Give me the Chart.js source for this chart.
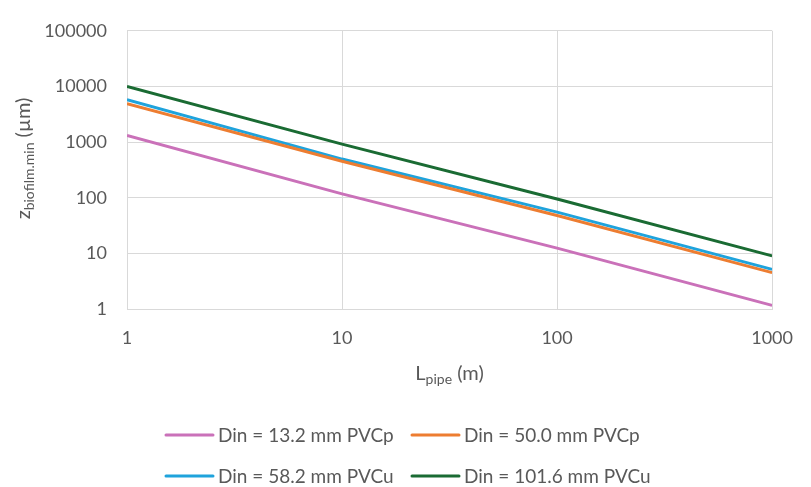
<!DOCTYPE html>
<html>
<head>
<meta charset="utf-8">
<script src="https://cdn.jsdelivr.net/npm/chart.js@4"></script>
<style>
  html, body { margin: 0; padding: 0; background: #fff; }
  #wrap { width: 811px; height: 487px; }
</style>
</head>
<body>
<div id="wrap"><canvas id="chart" width="811" height="487"></canvas></div>
<script>
// pipe length (m)
const lengths = [1, 10, 100, 1000];
// minimum biofilm thickness (µm) for each pipe
const din132 = [1310, 117, 12.4, 1.16];
const din500 = [4900, 452, 48, 4.5];
const din582 = [5800, 495, 55, 5.15];
const din1016 = [10000, 920, 95, 9.0];

const seriesNames = ['Din = 13.2 mm PVCp', 'Din = 50.0 mm PVCp', 'Din = 58.2 mm PVCu', 'Din = 101.6 mm PVCu'];
const seriesColors = ['#CA71B9', '#ED7D31', '#1FA3DC', '#1A6B33'];
const xTicks = [1, 10, 100, 1000];
const yTicks = [1, 10, 100, 1000, 10000, 100000];

const FONT = 'Lato, "Noto Sans", sans-serif';
const TXT = '#595959';
const GRID = '#d9d9d9';

const toPoints = arr => arr.map((v, i) => ({ x: lengths[i], y: v }));
const allSeries = [din132, din500, din582, din1016];

const datasets = allSeries.map((s, i) => ({
  label: seriesNames[i],
  data: toPoints(s),
  borderColor: seriesColors[i],
  backgroundColor: seriesColors[i],
  borderWidth: 3,
  pointRadius: 0,
  tension: 0
}));

// axis titles with subscripts + legend, drawn on the canvas
const extras = {
  id: 'extras',
  afterDraw(chart) {
    const ctx = chart.ctx;
    const area = chart.chartArea;
    ctx.save();
    ctx.fillStyle = TXT;
    ctx.textBaseline = 'alphabetic';

    // x title: L_pipe (m)
    const big = '20px ' + FONT, small = '14px ' + FONT;
    ctx.font = big; const wL = ctx.measureText('L').width;
    ctx.font = small; const wSub = ctx.measureText('pipe').width;
    ctx.font = big; const wRest = ctx.measureText(' (m)').width;
    let x = (area.left + area.right) / 2 - (wL + wSub + wRest) / 2;
    const yb = 380;
    ctx.font = big; ctx.fillText('L', x, yb); x += wL;
    ctx.font = small; ctx.fillText('pipe', x, yb + 4); x += wSub;
    ctx.font = big; ctx.fillText(' (m)', x, yb);

    // y title: z_biofilm.min (µm), rotated
    ctx.save();
    ctx.translate(30, 158.5);
    ctx.rotate(-Math.PI / 2);
    ctx.font = big; const wz = ctx.measureText('z').width;
    ctx.font = small; const wsb = ctx.measureText('biofilm.min').width;
    ctx.font = big; const wu = ctx.measureText(' (\u00b5m)').width;
    let yx = -(wz + wsb + wu) / 2;
    ctx.font = big; ctx.fillText('z', yx, 0); yx += wz;
    ctx.font = small; ctx.fillText('biofilm.min', yx, 4); yx += wsb;
    ctx.font = big; ctx.fillText(' (\u00b5m)', yx, 0);
    ctx.restore();

    // legend, two rows of two
    const cols = [166, 412];
    const rows = [435, 476];
    ctx.font = '19px ' + FONT;
    ctx.textBaseline = 'middle';
    seriesNames.forEach((name, i) => {
      const lx = cols[i % 2], ly = rows[Math.floor(i / 2)];
      ctx.strokeStyle = seriesColors[i];
      ctx.lineWidth = 3;
      ctx.lineCap = 'round';
      ctx.beginPath();
      ctx.moveTo(lx, ly);
      ctx.lineTo(lx + 47, ly);
      ctx.stroke();
      ctx.fillStyle = TXT;
      ctx.fillText(name, lx + 52, ly + 1);
    });
    ctx.restore();
  }
};

new Chart(document.getElementById('chart'), {
  type: 'line',
  data: { datasets },
  options: {
    responsive: false,
    animation: false,
    layout: { padding: { left: 0, right: 24, top: 17, bottom: 0 } },
    plugins: {
      legend: { display: false },
      tooltip: { enabled: false }
    },
    scales: {
      x: {
        type: 'logarithmic',
        min: 1,
        max: 1000,
        afterBuildTicks: s => { s.ticks = xTicks.map(v => ({ value: v })); },
        afterFit: s => { s.height = 178; },
        grid: { color: GRID, lineWidth: 1, drawTicks: false },
        border: { color: GRID, width: 1 },
        ticks: {
          color: TXT,
          font: { family: FONT, size: 18 },
          padding: 18,
          maxRotation: 0,
          autoSkip: false,
          callback: v => String(v)
        }
      },
      y: {
        type: 'logarithmic',
        min: 1,
        max: 100000,
        afterBuildTicks: s => { s.ticks = yTicks.map(v => ({ value: v })); },
        afterFit: s => { s.width = 127; },
        grid: { color: GRID, lineWidth: 1, drawTicks: false },
        border: { color: GRID, width: 1 },
        ticks: {
          color: TXT,
          font: { family: FONT, size: 18 },
          padding: 20,
          autoSkip: false,
          callback: v => String(v)
        }
      }
    }
  },
  plugins: [extras]
});
</script>
</body>
</html>
